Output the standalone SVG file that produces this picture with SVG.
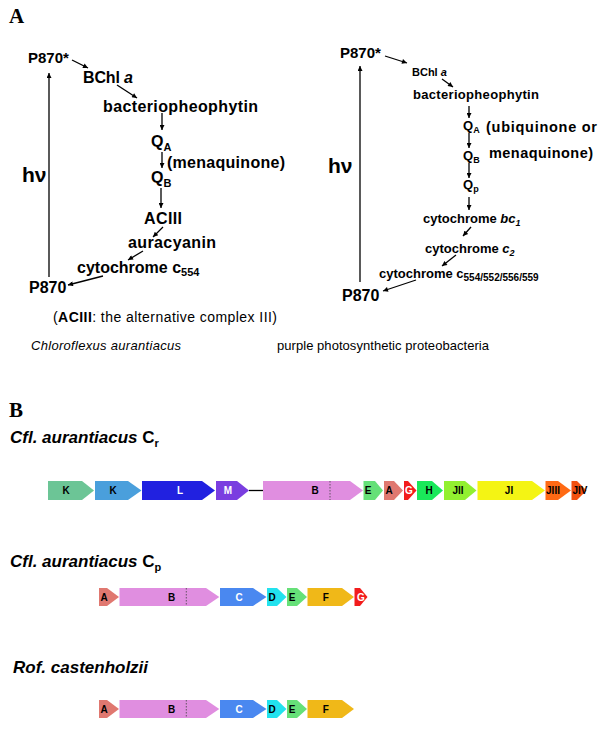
<svg xmlns="http://www.w3.org/2000/svg" width="600" height="736" viewBox="0 0 600 736">
<style>
.pl{font-family:"Liberation Serif",serif;font-weight:bold;font-size:21px;fill:#000}
.b{font-family:"Liberation Sans",Arial,sans-serif;font-weight:bold;fill:#000}
.r{font-family:"Liberation Sans",Arial,sans-serif;fill:#000}
.L{font-size:16px}
.R{font-size:13px}
.sub{font-size:11px}
.ttl{font-family:"Liberation Sans",Arial,sans-serif;font-weight:bold;font-style:italic;font-size:17px}
.g{font-family:"Liberation Sans",Arial,sans-serif;font-weight:bold;font-size:10px;text-anchor:middle;fill:#000}
.w{fill:#fff}
.con line{stroke:#000;stroke-width:1.3}
.dot{stroke:#444;stroke-width:0.8;stroke-dasharray:1.5 1.5}
</style>
<defs>
<marker id="ah" viewBox="0 0 10 10" refX="10" refY="5" markerWidth="7" markerHeight="5" orient="auto" markerUnits="userSpaceOnUse">
<path d="M0,0 L10,5 L0,10 z" fill="#000"/>
</marker>
</defs>
<rect width="600" height="736" fill="#fff"/>

<text class="pl" x="9" y="23">A</text>
<text class="pl" x="9" y="417">B</text>

<!-- connectors -->
<g id="connectors" class="con">
<line x1="49" y1="277" x2="49" y2="73" marker-end="url(#ah)" stroke-width="1.6"/>
<line x1="72" y1="60" x2="88" y2="68" marker-end="url(#ah)"/>
<line x1="117" y1="85" x2="137" y2="98" marker-end="url(#ah)"/>
<line x1="162" y1="113" x2="162" y2="130" marker-end="url(#ah)"/>
<line x1="162" y1="152" x2="162" y2="168" marker-end="url(#ah)"/>
<line x1="161" y1="188" x2="161" y2="208" marker-end="url(#ah)"/>
<line x1="163" y1="227" x2="153" y2="237" marker-end="url(#ah)"/>
<line x1="143" y1="251" x2="128" y2="260" marker-end="url(#ah)"/>
<line x1="103" y1="276" x2="68" y2="285" marker-end="url(#ah)"/>

<line x1="360" y1="282" x2="360" y2="66" marker-end="url(#ah)" stroke-width="1.6"/>
<line x1="385" y1="56" x2="407" y2="63" marker-end="url(#ah)"/>
<line x1="442" y1="79" x2="453" y2="87" marker-end="url(#ah)"/>
<line x1="469" y1="106" x2="469" y2="118" marker-end="url(#ah)"/>
<line x1="469" y1="133" x2="469" y2="148" marker-end="url(#ah)"/>
<line x1="469" y1="163" x2="469" y2="178" marker-end="url(#ah)"/>
<line x1="469" y1="197" x2="469" y2="210" marker-end="url(#ah)"/>
<line x1="471" y1="227" x2="463" y2="236" marker-end="url(#ah)"/>
<line x1="456" y1="255" x2="442" y2="266" marker-end="url(#ah)"/>
<line x1="416" y1="280" x2="383" y2="291" marker-end="url(#ah)"/>

<line x1="249" y1="490.5" x2="263" y2="490.5"/>
</g>

<!-- Panel A left -->
<g id="left-p870star"><text class="b" x="28" y="63" font-size="15">P870*</text></g>
<g id="left-bchl"><text class="b L" x="83" y="83" textLength="50">BChl <tspan font-style="italic">a</tspan></text></g>
<g id="left-bph"><text class="b L" x="103" y="112" textLength="155">bacteriopheophytin</text></g>
<g id="left-qa"><text class="b L" x="151" y="147">Q<tspan class="sub" dy="4">A</tspan></text></g>
<g id="left-mena"><text class="b L" x="167" y="168" textLength="118">(menaquinone)</text></g>
<g id="left-qb"><text class="b L" x="151" y="183">Q<tspan class="sub" dy="4">B</tspan></text></g>
<g id="left-aciii"><text class="b L" x="144" y="224" textLength="38">ACIII</text></g>
<g id="left-aura"><text class="b L" x="128" y="248" textLength="88">auracyanin</text></g>
<g id="left-cyt"><text class="b L" x="77" y="273">cytochrome c<tspan class="sub" dy="3">554</tspan></text></g>
<g id="left-p870"><text class="b L" x="29" y="293">P870</text></g>
<g id="left-hv"><text class="b" x="22" y="182" font-size="21">hν</text></g>
<text class="r" x="53" y="322" font-size="14" textLength="224">(<tspan font-weight="bold">ACIII</tspan>: the alternative complex III)</text>

<!-- Panel A right -->
<g id="right-p870star"><text class="b" x="340" y="58" font-size="15">P870*</text></g>
<g id="right-bchl"><text class="b" x="412" y="76" font-size="11">BChl <tspan font-style="italic">a</tspan></text></g>
<g id="right-bph"><text class="b R" x="413" y="99" textLength="126">bacteriopheophytin</text></g>
<g id="right-qa"><text class="b R" x="463" y="130">Q<tspan font-size="9" dy="3">A</tspan></text></g>
<g id="right-ubi"><text class="b" x="486" y="132" font-size="14.5" textLength="111">(ubiquinone or</text>
<text class="b" x="489" y="158" font-size="14.5" textLength="104">menaquinone)</text></g>
<g id="right-qb"><text class="b R" x="463" y="160">Q<tspan font-size="9" dy="3">B</tspan></text></g>
<g id="right-qp"><text class="b R" x="463" y="189">Q<tspan font-size="9" dy="3">p</tspan></text></g>
<g id="right-hv"><text class="b" x="328" y="173" font-size="21">hν</text></g>
<g id="right-bc1"><text class="b R" x="423" y="223">cytochrome <tspan font-style="italic">bc</tspan><tspan font-style="italic" font-size="9" dy="3">1</tspan></text></g>
<g id="right-c2"><text class="b R" x="425" y="253">cytochrome <tspan font-style="italic">c</tspan><tspan font-style="italic" font-size="9" dy="3">2</tspan></text></g>
<g id="right-cyt"><text class="b R" x="379" y="278">cytochrome c<tspan font-size="10" dy="3">554/552/556/559</tspan></text></g>
<g id="right-p870"><text class="b" x="342" y="301" font-size="16">P870</text></g>

<text class="r" x="31" y="350" font-size="13" font-style="italic" textLength="150">Chloroflexus aurantiacus</text>
<text class="r" x="277" y="350" font-size="13" textLength="212">purple photosynthetic proteobacteria</text>

<!-- Panel B -->
<text class="ttl" x="10" y="443">Cfl. aurantiacus <tspan font-style="normal">C</tspan><tspan font-style="normal" font-size="11" dy="4">r</tspan></text>
<text class="ttl" x="10" y="567">Cfl. aurantiacus <tspan font-style="normal">C</tspan><tspan font-style="normal" font-size="11" dy="4">p</tspan></text>
<text class="ttl" x="13" y="673">Rof. castenholzii</text>

<!-- Row 1 y 481-500 -->
<g id="r1-K1"><polygon points="48,481 82,481 94,490.5 82,500 48,500" fill="#6cc596"/><text class="g" x="66" y="494">K</text></g>
<g id="r1-K2"><polygon points="95,481 128,481 141.5,490.5 128,500 95,500" fill="#4a9fdc"/><text class="g" x="113" y="494">K</text></g>
<g id="r1-L"><polygon points="142,481 202,481 215,490.5 202,500 142,500" fill="#2121e0"/><text class="g w" x="180" y="494">L</text></g>
<g id="r1-M"><polygon points="216,481 237,481 249,490.5 237,500 216,500" fill="#7a3ee0"/><text class="g w" x="228" y="494">M</text></g>
<g id="r1-B"><polygon points="263,481 350,481 363,490.5 350,500 263,500" fill="#e08ee0"/><line class="dot" x1="330" y1="481" x2="330" y2="500"/><text class="g" x="315" y="494">B</text></g>
<g id="r1-E"><polygon points="363.5,481 375,481 383,490.5 375,500 363.5,500" fill="#66e078"/><text class="g" x="368" y="494">E</text></g>
<g id="r1-A"><polygon points="384,481 394,481 403,490.5 394,500 384,500" fill="#e07870"/><text class="g" x="389" y="494">A</text></g>
<g id="r1-G"><polygon points="404,481 408,481 416.5,490.5 408,500 404,500" fill="#f21c1c"/><text class="g w" x="409" y="494">G</text></g>
<g id="r1-H"><polygon points="417,481 432,481 443,490.5 432,500 417,500" fill="#1ae85a"/><text class="g" x="429" y="494">H</text></g>
<g id="r1-JII"><polygon points="444,481 465,481 476.5,490.5 465,500 444,500" fill="#92f030"/><text class="g" x="458" y="494">JII</text></g>
<g id="r1-JI"><polygon points="477.5,481 532,481 545,490.5 532,500 477.5,500" fill="#f4f414"/><text class="g" x="509" y="494">JI</text></g>
<g id="r1-JIII"><polygon points="545.5,481 558,481 571,490.5 558,500 545.5,500" fill="#ff6a14"/><text class="g" x="553" y="494">JIII</text></g>
<g id="r1-JIV"><polygon points="571.5,481 577,481 586.5,490.5 577,500 571.5,500" fill="#f25010"/><text class="g" x="580" y="494">JIV</text></g>

<!-- Row 2 y 588-606 -->
<g id="r2-A"><polygon points="99,588 107,588 119,597 107,606 99,606" fill="#e07870"/><text class="g" x="104" y="600.5">A</text></g>
<g id="r2-B"><polygon points="119.5,588 206,588 219.3,597 206,606 119.5,606" fill="#e08ee0"/><line class="dot" x1="186.3" y1="588" x2="186.3" y2="606"/><text class="g" x="171.7" y="600.5">B</text></g>
<g id="r2-C"><polygon points="220,588 253,588 266.5,597 253,606 220,606" fill="#4a88f0"/><text class="g w" x="239" y="600.5">C</text></g>
<g id="r2-D"><polygon points="267,588 277,588 286.5,597 277,606 267,606" fill="#22e2ee"/><text class="g" x="272" y="600.5">D</text></g>
<g id="r2-E"><polygon points="287,588 297,588 307,597 297,606 287,606" fill="#66e078"/><text class="g" x="292" y="600.5">E</text></g>
<g id="r2-F"><polygon points="307.5,588 342,588 354,597 342,606 307.5,606" fill="#f0b818"/><text class="g" x="325.7" y="600.5">F</text></g>
<g id="r2-G"><polygon points="354.5,588 360,588 367.5,597 360,606 354.5,606" fill="#f21c1c"/><text class="g w" x="361" y="600.5">G</text></g>

<!-- Row 3 y 700-718 -->
<g id="r3-A"><polygon points="99,700 107,700 119,709 107,718 99,718" fill="#e07870"/><text class="g" x="104" y="712.5">A</text></g>
<g id="r3-B"><polygon points="119.5,700 206,700 219.3,709 206,718 119.5,718" fill="#e08ee0"/><line class="dot" x1="186.3" y1="700" x2="186.3" y2="718"/><text class="g" x="171.7" y="712.5">B</text></g>
<g id="r3-C"><polygon points="220,700 253,700 266.5,709 253,718 220,718" fill="#4a88f0"/><text class="g w" x="239" y="712.5">C</text></g>
<g id="r3-D"><polygon points="267,700 277,700 286.5,709 277,718 267,718" fill="#22e2ee"/><text class="g" x="272" y="712.5">D</text></g>
<g id="r3-E"><polygon points="287,700 297,700 307,709 297,718 287,718" fill="#66e078"/><text class="g" x="292" y="712.5">E</text></g>
<g id="r3-F"><polygon points="307.5,700 342,700 354,709 342,718 307.5,718" fill="#f0b818"/><text class="g" x="325.7" y="712.5">F</text></g>
</svg>
